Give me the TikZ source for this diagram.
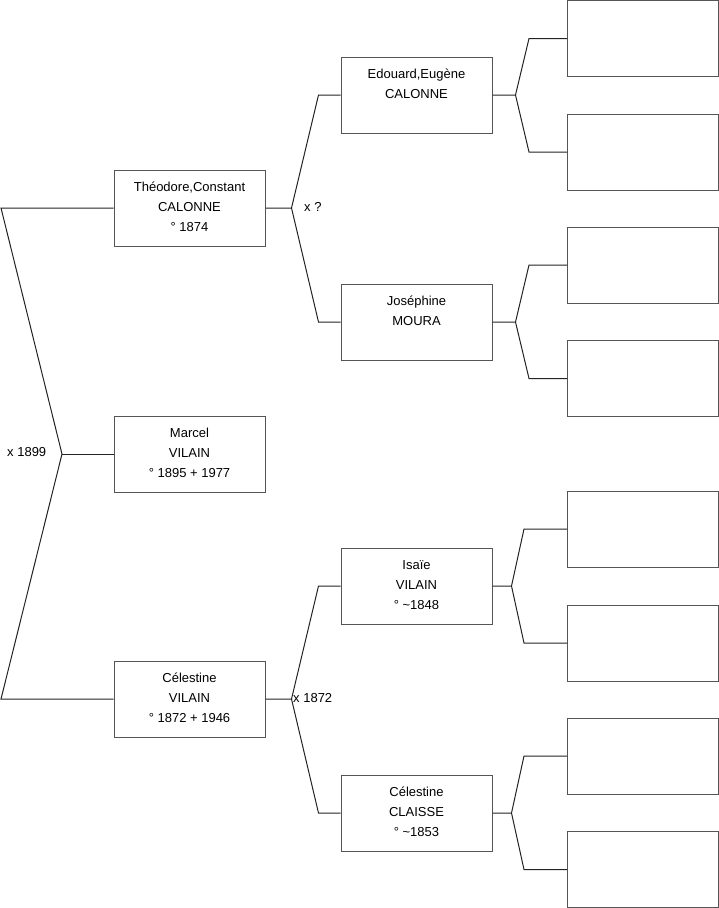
\documentclass[tikz,border=0pt]{standalone}
\usepackage{fontspec}
\setmainfont{Liberation Sans}
\definecolor{boxline}{RGB}{85,85,85}
\definecolor{linkline}{RGB}{35,35,35}
\newcommand\pinfo[1]{\parbox[c][76pt][t]{151pt}{\centering\fontsize{13}{20}\selectfont\rule{0pt}{21pt}#1}}
\tikzset{
  person/.style={draw=boxline, line width=1pt, minimum width=151pt, minimum height=76pt, inner sep=0pt},
  link/.style={draw=linkline, line width=1pt},
  union/.style={font=\fontsize{13}{15}\selectfont, inner sep=0pt, anchor=west}
}
\begin{document}
\begin{tikzpicture}[x=1pt,y=-1pt]
  \useasboundingbox (0,0) rectangle (719,908);
  % first generation
  \node [person] (theodore)  at (189.5,208) {\pinfo{Théodore,Constant\\CALONNE\\° 1874}};
  \node [person] (marcel)    at (189.5,454) {\pinfo{Marcel\\VILAIN\\° 1895 + 1977}};
  \node [person] (celestine) at (189.5,699) {\pinfo{Célestine\\VILAIN\\° 1872 + 1946}};
  % parents
  \node [person] (edouard)   at (416.5,95)  {\pinfo{Edouard,Eugène\\CALONNE}};
  \node [person] (josephine) at (416.5,322) {\pinfo{Joséphine\\MOURA}};
  \node [person] (isaie)     at (416.5,586) {\pinfo{Isaïe\\VILAIN\\° \textasciitilde1848}};
  \node [person] (claisse)   at (416.5,813) {\pinfo{Célestine\\CLAISSE\\° \textasciitilde1853}};
  % grandparents, unknown
  \foreach \g/\y in {g1/38.5, g2/152, g3/265, g4/378.5, g5/529, g6/643, g7/756, g8/869.5}
    \node [person] (\g) at (643,\y) {};
  % marriages
  \node [union] (m1899) at (7,452)   {x 1899};
  \node [union] (mtheo) at (304,207) {x ?};
  \node [union] (m1872) at (293,698) {x 1872};
  % left bracket
  \coordinate (ltop)  at (1,208);
  \coordinate (lbot)  at (1,699);
  \coordinate (jroot) at (62,454);
  \draw [link] (theodore.west) -- (ltop) -- (jroot) -- (lbot) -- (celestine.west);
  \draw [link] (jroot) -- (marcel.west);
  % middle brackets
  \draw [link] (theodore.east) -- ++(26,0) coordinate (jtheo)
      -- ([xshift=-22pt]edouard.west) -- (edouard.west)
    (jtheo) -- ([xshift=-22pt]josephine.west) -- (josephine.west);
  \draw [link] (celestine.east) -- ++(26,0) coordinate (jcele)
      -- ([xshift=-22pt]isaie.west) -- (isaie.west)
    (jcele) -- ([xshift=-22pt]claisse.west) -- (claisse.west);
  % right brackets
  \foreach \kid/\a/\b/\j/\c in {edouard/g1/g2/23/38, josephine/g3/g4/23/38,
                                isaie/g5/g6/19/43, claisse/g7/g8/19/43}
    \draw [link] (\kid.east) -- ++(\j,0) coordinate (j\kid)
        -- ([xshift=-\c pt]\a.west) -- (\a.west)
      (j\kid) -- ([xshift=-\c pt]\b.west) -- (\b.west);
\end{tikzpicture}
\end{document}
